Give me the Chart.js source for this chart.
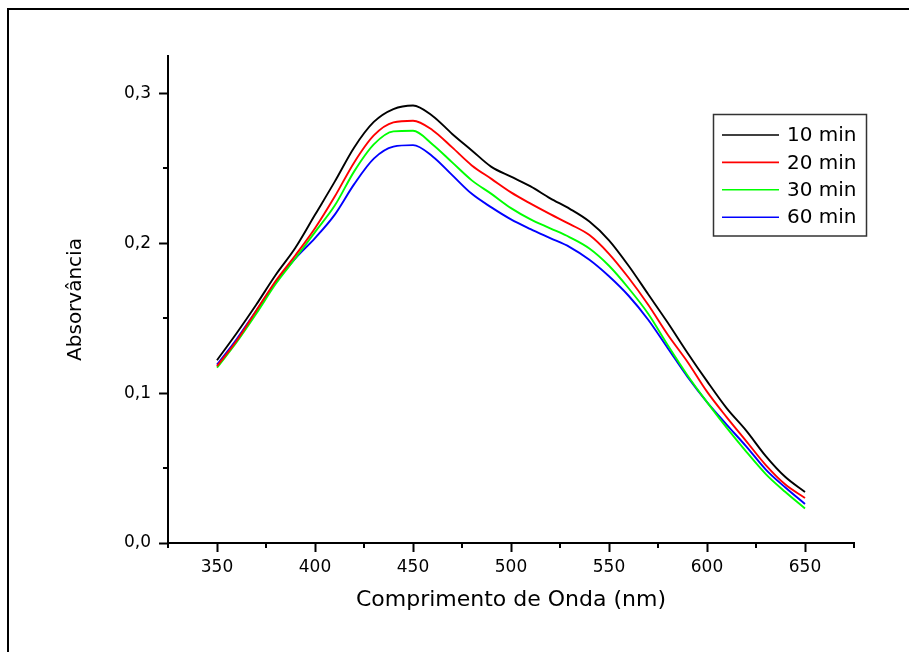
<!DOCTYPE html>
<html>
<head>
<meta charset="utf-8">
<script src="https://cdn.jsdelivr.net/npm/chart.js@4/dist/chart.umd.min.js"></script>
<style>
html,body{margin:0;padding:0;background:#fff;}
#wrap{width:909px;height:652px;position:relative;}
canvas{display:block;}
</style>
</head>
<body>
<div id="wrap"><canvas id="c" width="909" height="652"></canvas></div>
<script>
// ---- data ----
const wavelengths = [350,360,370,380,390,400,410,420,430,440,450,460,470,480,490,500,510,520,530,540,550,560,570,580,590,600,610,620,630,640,650];
const abs10min = [0.122,0.140,0.159,0.179,0.197,0.219,0.241,0.264,0.281,0.2896,0.292,0.285,0.273,0.262,0.251,0.2445,0.238,0.230,0.223,0.2145,0.202,0.185,0.166,0.147,0.127,0.108,0.090,0.075,0.058,0.044,0.034];
const abs20min = [0.118,0.135,0.155,0.175,0.192,0.210,0.231,0.254,0.272,0.2807,0.2818,0.2755,0.264,0.252,0.243,0.234,0.2265,0.2195,0.2128,0.2055,0.193,0.177,0.159,0.139,0.121,0.101,0.084,0.068,0.052,0.039,0.030];
const abs30min = [0.117,0.134,0.153,0.173,0.190,0.2075,0.225,0.248,0.266,0.2747,0.2751,0.266,0.254,0.242,0.233,0.2235,0.216,0.210,0.204,0.1965,0.185,0.170,0.153,0.132,0.112,0.094,0.077,0.061,0.046,0.034,0.023];
const abs60min = [0.119,0.136,0.155,0.174,0.190,0.2035,0.219,0.2395,0.2565,0.2645,0.2655,0.258,0.2455,0.233,0.224,0.216,0.2095,0.2035,0.1975,0.189,0.178,0.165,0.149,0.130,0.111,0.094,0.079,0.0645,0.049,0.037,0.026];
const seriesLabels = ['10 min','20 min','30 min','60 min'];
const seriesColors = ['#000000','#ff0000','#00ff00','#0000ff'];
const xMajorTicks = [350,400,450,500,550,600,650];
const xMinorTicks = [325,375,425,475,525,575,625,675];
const yMajorTicks = [0,0.1,0.2,0.3];
const yTickLabels = ['0,0','0,1','0,2','0,3'];
const yMinorTicks = [0.05,0.15,0.25];
const xTitle = 'Comprimento de Onda (nm)';
const yTitle = 'Absorvância';

const FONT = '"DejaVu Sans", "Liberation Sans", sans-serif';
const seriesValues = [abs10min, abs20min, abs30min, abs60min];
const datasets = seriesValues.map((vals, i) => ({
  label: seriesLabels[i],
  data: wavelengths.map((w, j) => ({x: w, y: vals[j]})),
  borderColor: seriesColors[i],
  backgroundColor: seriesColors[i],
  borderWidth: 1.9,
  pointRadius: 0,
  cubicInterpolationMode: 'monotone',
  fill: false
}));

const near = (a, b) => Math.abs(a - b) < 1e-6;

const decor = {
  id: 'decor',
  afterDraw(chart) {
    const ctx = chart.ctx;
    const xs = chart.scales.x, ys = chart.scales.y;
    const ca = chart.chartArea;
    ctx.save();
    // outer frame (top and left edges visible)
    ctx.strokeStyle = '#000';
    ctx.lineWidth = 2;
    ctx.beginPath();
    ctx.moveTo(8, 652); ctx.lineTo(8, 9); ctx.lineTo(909, 9);
    ctx.stroke();
    // minor ticks
    ctx.lineWidth = 2;
    ctx.beginPath();
    xMinorTicks.forEach(v => {
      const px = Math.round(xs.getPixelForValue(v));
      ctx.moveTo(px, ca.bottom); ctx.lineTo(px, ca.bottom + 5);
    });
    yMinorTicks.forEach(v => {
      const py = Math.round(ys.getPixelForValue(v));
      ctx.moveTo(ca.left, py); ctx.lineTo(ca.left - 5, py);
    });
    ctx.stroke();
    // legend box
    const bx = 713.5, by = 114.5, bw = 153, bh = 121.5;
    ctx.strokeStyle = '#333';
    ctx.lineWidth = 1.5;
    ctx.strokeRect(bx, by, bw, bh);
    ctx.font = '20px ' + FONT;
    ctx.textBaseline = 'middle';
    ctx.textAlign = 'left';
    chart.data.datasets.forEach((ds, i) => {
      const yy = 135 + i * 27.4;
      ctx.strokeStyle = ds.borderColor;
      ctx.lineWidth = 1.6;
      ctx.beginPath();
      ctx.moveTo(722, yy); ctx.lineTo(779, yy);
      ctx.stroke();
      ctx.fillStyle = '#000';
      ctx.fillText(ds.label, 787, yy + 1);
    });
    ctx.restore();
  }
};

new Chart(document.getElementById('c'), {
  type: 'line',
  data: { datasets },
  options: {
    responsive: false,
    animation: false,
    devicePixelRatio: 1,
    layout: { padding: { left: 0, top: 56, right: 55, bottom: 0 } },
    plugins: { legend: { display: false }, tooltip: { enabled: false } },
    scales: {
      x: {
        type: 'linear',
        min: 325, max: 675,
        afterFit(s) { s.height = 109; },
        border: { display: true, color: '#000', width: 2 },
        grid: {
          display: true, drawOnChartArea: false, drawTicks: true,
          tickLength: 9, tickWidth: 2,
          tickColor: c => (c.tick && xMajorTicks.some(v => near(v, c.tick.value))) ? '#000' : 'rgba(0,0,0,0)'
        },
        ticks: {
          stepSize: 25, autoSkip: false, maxRotation: 0, padding: 5,
          color: '#000', font: { family: FONT, size: 17 },
          callback: v => xMajorTicks.some(t => near(t, v)) ? String(v) : ''
        },
        title: {
          display: true, text: xTitle, color: '#000',
          font: { family: FONT, size: 22 },
          padding: { top: 0, bottom: 39 }
        }
      },
      y: {
        type: 'linear',
        min: 0, max: 0.325,
        afterFit(s) { s.width = 168; },
        border: { display: true, color: '#000', width: 2 },
        grid: {
          display: true, drawOnChartArea: false, drawTicks: true,
          tickLength: 9, tickWidth: 2,
          tickColor: c => (c.tick && yMajorTicks.some(v => near(v, c.tick.value))) ? '#000' : 'rgba(0,0,0,0)'
        },
        ticks: {
          stepSize: 0.05, autoSkip: false, padding: 8,
          color: '#000', font: { family: FONT, size: 17 },
          callback: v => { const i = yMajorTicks.findIndex(t => near(t, v)); return i >= 0 ? yTickLabels[i] : ''; }
        },
        title: {
          display: true, text: yTitle, color: '#000',
          font: { family: FONT, size: 20 },
          padding: { top: 64, bottom: 0 }
        }
      }
    }
  },
  plugins: [decor]
});
</script>
</body>
</html>
